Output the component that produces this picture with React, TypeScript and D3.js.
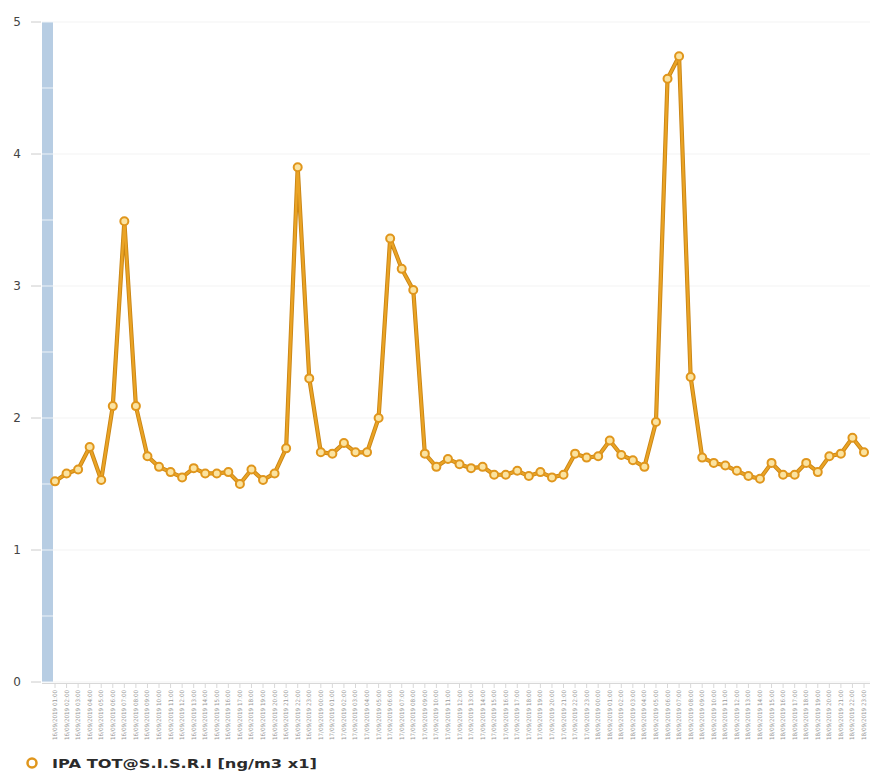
import React from "react";
import * as d3 from "d3";

const startDay = 16;
const hours = d3.range(71);
const categories: string[] = hours.map((h) => {
  const t = h + 1;
  const day = startDay + Math.floor(t / 24);
  const hr = t % 24;
  return `${day}/09/2019 ${String(hr).padStart(2, "0")}:00`;
});

const values: number[] = [
  1.52, 1.58, 1.61, 1.78, 1.53, 2.09, 3.49, 2.09, 1.71, 1.63,
  1.59, 1.55, 1.62, 1.58, 1.58, 1.59, 1.5, 1.61, 1.53, 1.58,
  1.77, 3.9, 2.3, 1.74, 1.73, 1.81, 1.74, 1.74, 2.0, 3.36,
  3.13, 2.97, 1.73, 1.63, 1.69, 1.65, 1.62, 1.63, 1.57, 1.57,
  1.6, 1.56, 1.59, 1.55, 1.57, 1.73, 1.7, 1.71, 1.83, 1.72,
  1.68, 1.63, 1.97, 4.57, 4.74, 2.31, 1.7, 1.66, 1.64, 1.6,
  1.56, 1.54, 1.66, 1.57, 1.57, 1.66, 1.59, 1.71, 1.73, 1.85,
  1.74,
];

const yTicks = [0, 1, 2, 3, 4, 5];
const minorTicks = d3.range(0, 5.01, 0.5);
const seriesName = "IPA TOT@S.I.S.R.I [ng/m3 x1]";

const W = 870;
const H = 772;
const ORANGE = "#E0961C";

export default function App() {
  const x = d3.scalePoint<string>().domain(categories).range([55, 864]);
  const y = d3.scaleLinear().domain([0, 5]).range([682, 22]);
  const line = d3
    .line<number>()
    .x((_, i) => x(categories[i]) as number)
    .y((d) => y(d));

  return (
    <svg
      width={W}
      height={H}
      style={{ position: "absolute", left: 0, top: 0, background: "#fff" }}
      fontFamily="'DejaVu Sans', Verdana, sans-serif"
    >
      {yTicks.map((t) => (
        <line key={"g" + t} x1={53} x2={W} y1={y(t)} y2={y(t)} stroke="#f3f3f3" strokeWidth={1} />
      ))}
      <rect x={42} y={y(5)} width={11} height={y(0) - y(5)} fill="#b7cde3" />
      {minorTicks.map((t) => (
        <line key={"m" + t} x1={42} x2={53} y1={y(t)} y2={y(t)} stroke="#eef3f8" strokeWidth={1} />
      ))}
      {yTicks.map((t) => (
        <g key={"y" + t}>
          <line x1={31} x2={41} y1={y(t)} y2={y(t)} stroke="#ccc" strokeWidth={1} />
          <text x={17} y={y(t)} dy="0.35em" fontSize={12} fill="#444" textAnchor="middle">
            {t}
          </text>
        </g>
      ))}
      <line x1={42} x2={W} y1={683.5} y2={683.5} stroke="#d8d8d8" strokeWidth={1} />
      {categories.map((c) => (
        <g key={c} transform={`translate(${x(c)},0)`}>
          <line y1={684} y2={688} stroke="#d8d8d8" />
          <text
            transform="translate(2,690) rotate(-90)"
            textAnchor="end"
            fontSize={6}
            fill="#999"
            textLength={50}
            lengthAdjust="spacingAndGlyphs"
          >
            {c}
          </text>
        </g>
      ))}
      <path d={line(values) || ""} fill="none" stroke="#C98515" strokeWidth={4.2} strokeLinejoin="round" />
      <path d={line(values) || ""} fill="none" stroke="#EAA324" strokeWidth={2.4} strokeLinejoin="round" />
      {values.map((v, i) => (
        <circle
          key={i}
          cx={x(categories[i])}
          cy={y(v)}
          r={4}
          fill="#FBE3A0"
          stroke={ORANGE}
          strokeWidth={2}
        />
      ))}
      <circle cx={32} cy={763} r={4.5} fill="#fff" stroke={ORANGE} strokeWidth={2.5} />
      <text
        x={52}
        y={767.5}
        fontSize={12}
        fontWeight="bold"
        fill="#2b2b2b"
        textLength={265}
        lengthAdjust="spacingAndGlyphs"
      >
        {seriesName}
      </text>
    </svg>
  );
}
